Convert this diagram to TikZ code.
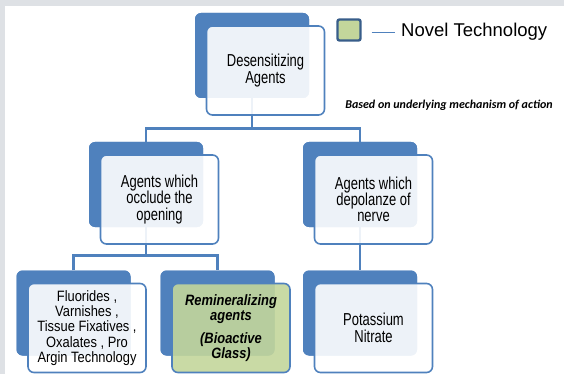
\documentclass[tikz,border=0pt]{standalone}
\usepackage{fontspec}
\setmainfont{Liberation Sans}
\newfontfamily\carl{Carlito}
\newfontfamily\tallfont[FakeStretch=0.75]{Liberation Sans}
\newfontfamily\tallfontb[FakeStretch=0.86]{Liberation Sans}
\definecolor{ofblue}{HTML}{4F81BD}
\definecolor{legbd}{HTML}{385D8A}
\definecolor{novgreen}{HTML}{C3D69B}
\definecolor{edgegray}{HTML}{DEE1E5}
\begin{document}
\begin{tikzpicture}[x=1pt,y=-1pt,
  backbox/.style={draw=none, fill=ofblue, rounded corners=6pt, minimum width=114pt, minimum height=85pt, inner sep=0pt},
  frontbox/.style={draw=ofblue, line width=1.6pt, fill=white, fill opacity=0.9, text opacity=1, rounded corners=6pt, minimum width=118pt, minimum height=89pt, inner sep=0pt, align=center, font=\tallfont\fontsize{17.3}{16.3}\selectfont},
  greenbox/.style={frontbox, fill=novgreen, font=\tallfontb\fontsize{15}{15.5}\selectfont\bfseries\itshape},
  linkline/.style={draw=ofblue, line width=2.2pt}]
\useasboundingbox (0,0) rectangle (564,374);
\fill[edgegray] (0,0) rectangle (564,6);
\fill[edgegray] (0,0) rectangle (5,374);

% junctions
\coordinate (j1) at (252,128.5);
\coordinate (j2) at (146,255.5);

% back boxes positions
\path (252,55.5) coordinate (ptop)
      (146,184.5) coordinate (pml)
      (360,184.5) coordinate (pmr)
      (73.5,313) coordinate (pbl)
      (217.5,313) coordinate (pbg)
      (360,313) coordinate (pbr);

\node[backbox] (topb) at (ptop) {};
\node[backbox] (mlb) at (pml) {};
\node[backbox] (mrb) at (pmr) {};
\node[backbox] (blb) at (pbl) {};
\node[backbox] (bgb) at (pbg) {};
\node[backbox] (brb) at (pbr) {};

% connectors (behind the front boxes)
\draw[linkline] (topb.south) -- (j1);
\draw[linkline] (mlb.north) |- (j1) -| (mrb.north);
\draw[linkline] (mlb.south) -- (j2);
\draw[linkline] (blb.north) |- (j2) -| (bgb.north);
\draw[linkline] (mrb.south) -- (brb.north);

% redraw back boxes over connector ends
\node[backbox] at (ptop) {};
\node[backbox] at (pml) {};
\node[backbox] at (pmr) {};
\node[backbox] at (pbl) {};
\node[backbox] at (pbg) {};
\node[backbox] at (pbr) {};

% front boxes
\node[frontbox] (topf) at ([shift={(13.5,15)}]ptop) {Desensitizing\\Agents};
\node[frontbox] (mlf) at ([shift={(13.5,15)}]pml) {Agents which\\occlude the\\opening};
\node[frontbox] (mrf) at ([shift={(13.5,15)}]pmr) {Agents which\\depolanze of\\nerve};
\node[frontbox, font=\tallfontb\fontsize{15}{15.3}\selectfont] (blf) at ([shift={(13.5,15)}]pbl) {Fluorides ,\\Varnishes ,\\Tissue Fixatives ,\\Oxalates , Pro\\Argin Technology};
\node[greenbox] (bgf) at ([shift={(13.5,15)}]pbg) {Remineralizing\\agents\\[7pt](Bioactive\\Glass)};
\node[frontbox] (brf) at ([shift={(13.5,15)}]pbr) {Potassium\\[1pt]Nitrate};

% legend
\node[draw=legbd, line width=2.4pt, fill=novgreen, rounded corners=2pt, minimum width=23pt, minimum height=21pt, inner sep=0pt] (leg) at (349,30) {};
\node[anchor=west, inner sep=0pt, font=\fontsize{18.5}{22}\selectfont] (legt) at (401,32) {Novel Technology};
\draw[draw=ofblue, line width=1pt] ([xshift=10pt,yshift=-3pt]leg.east) -- ([xshift=-6pt,yshift=-1pt]legt.west);

\node[inner sep=0pt, font=\carl\bfseries\itshape\fontsize{12}{14}\selectfont] (basis) at (449,105) {Based on underlying mechanism of action};
\end{tikzpicture}
\end{document}
